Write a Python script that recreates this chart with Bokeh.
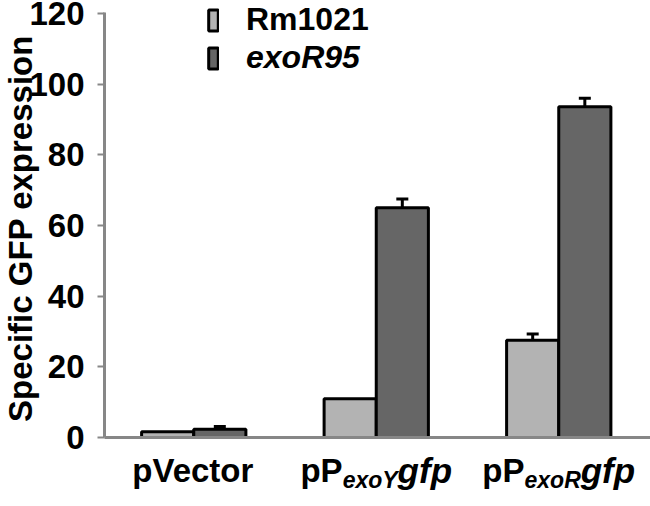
import math
from bokeh.plotting import figure
from bokeh.models import (Range1d, Legend, LegendItem, Whisker, ColumnDataSource,
                          Label, FixedTicker, TeeHead)
from bokeh.embed import file_html
from bokeh.resources import INLINE

# ---------------- data ----------------
categories = ["pVector", "pPexoYgfp", "pPexoRgfp"]
label_main = ["pVector", "pP", "pP"]
label_sub = ["", "exoY", "exoR"]
label_tail = ["", "gfp", "gfp"]
series_names = ["Rm1021", "exoR95"]
rm1021 = [1.6, 11.0, 27.5]
rm1021_err = [0.0, 0.0, 1.8]
exor95 = [2.3, 65.0, 93.6]
exor95_err = [0.8, 2.5, 2.4]
y_ticks = [0, 20, 40, 60, 80, 100, 120]
y_title = "Specific GFP expression"

# ---------------- layout ----------------
FONT = "Liberation Sans"
W, H = 650, 506
AX_X, AX_Y, AX_TOP = 104, 437, 12          # axis positions in page pixels
PX_PER_CAT = 182.5
X0 = -0.5 + 2 / PX_PER_CAT                  # data x at the y axis
px_per_y = (AX_Y - AX_TOP) / 120.3
x_start = X0 - AX_X / PX_PER_CAT
x_end = x_start + W / PX_PER_CAT
y_end = AX_Y / px_per_y
y_start = -(H - AX_Y) / px_per_y

light = "#b3b3b3"
dark = "#666666"
axis_gray = "#878787"

p = figure(width=W, height=H, output_backend="svg", toolbar_location=None,
           x_range=Range1d(x_start, x_end), y_range=Range1d(y_start, y_end),
           min_border_left=0, min_border_right=0, min_border_top=0,
           min_border_bottom=0)
p.outline_line_color = None
p.xgrid.visible = False
p.ygrid.visible = False

bw = 1 / 3.5
xs = list(range(len(categories)))
x_light = [x - bw / 2 for x in xs]
x_dark = [x + bw / 2 for x in xs]

r1 = p.vbar(x=x_light, top=rm1021, bottom=0, width=bw, fill_color=light,
            line_color="black", line_width=3)
r2 = p.vbar(x=x_dark, top=exor95, bottom=0, width=bw, fill_color=dark,
            line_color="black", line_width=3)

# error bars
eb_x, eb_up, eb_lo = [], [], []
for xv, v, e in list(zip(x_light, rm1021, rm1021_err)) + list(zip(x_dark, exor95, exor95_err)):
    if e > 0:
        eb_x.append(xv); eb_up.append(v + e); eb_lo.append(v - e)
src = ColumnDataSource(dict(x=eb_x, upper=eb_up, lower=eb_lo))
wk = Whisker(base="x", upper="upper", lower="lower", source=src,
             line_color="black", line_width=3,
             upper_head=TeeHead(size=12, line_width=3, line_color="black"),
             lower_head=TeeHead(size=12, line_width=3, line_color="black"))
p.add_layout(wk)

# axes (placed inside the canvas at fixed data positions)
ya = p.yaxis[0]
ya.fixed_location = X0
ya.bounds = (0, (AX_Y - AX_TOP) / px_per_y)
ya.ticker = FixedTicker(ticks=y_ticks)
ya.minor_tick_line_color = None
ya.major_tick_in = 0
ya.major_tick_out = 7
ya.major_tick_line_color = axis_gray
ya.major_tick_line_width = 2
ya.axis_line_color = axis_gray
ya.axis_line_width = 3
ya.major_label_standoff = 13
ya.major_label_text_font = FONT
ya.major_label_text_font_style = "bold"
ya.major_label_text_font_size = "33px"
ya.major_label_text_color = "black"

xa = p.xaxis[0]
xa.fixed_location = 0
xa.bounds = (X0, x_end)
xa.ticker = FixedTicker(ticks=[])
xa.minor_tick_line_color = None
xa.major_tick_line_color = None
xa.axis_line_color = axis_gray
xa.axis_line_width = 3
xa.major_label_text_font_size = "0px"

def px_x(page_x):
    return x_start + page_x / PX_PER_CAT

def px_y(page_y):
    return (AX_Y - page_y) / px_per_y

# y title
p.add_layout(Label(x=px_x(20), y=px_y(228), text=y_title, angle=math.pi / 2,
                   text_align="center", text_baseline="alphabetic",
                   text_font=FONT, text_font_style="bold", text_font_size="33px",
                   text_color="black"))

# x category labels with subscript pieces
WID = {'p': 0.611, 'P': 0.667, 'V': 0.667, 'e': 0.556, 'c': 0.556, 't': 0.333,
       'o': 0.611, 'r': 0.389, 'x': 0.556, 'Y': 0.667, 'R': 0.722, 'g': 0.611,
       'f': 0.333}
def tw(s, size):
    return sum(WID.get(ch, 0.556) for ch in s) * size

MAIN_FS, SUB_FS, TAIL_FS = 33, 23, 35
base_y = px_y(470)
sub_y = px_y(479)
for i, x in enumerate(xs):
    pieces = [(label_main[i], MAIN_FS, "bold", base_y),
              (label_sub[i], SUB_FS, "bold italic", sub_y),
              (label_tail[i], TAIL_FS, "bold italic", base_y)]
    pieces = [pc for pc in pieces if pc[0]]
    total = sum(tw(t, fs) for t, fs, _, _ in pieces)
    off = -total / 2
    for t, fs, st, yy in pieces:
        p.add_layout(Label(x=x, y=yy, x_offset=off, text=t, text_align="left",
                           text_baseline="alphabetic", text_font=FONT,
                           text_font_style=st, text_font_size=f"{fs}px",
                           text_color="black"))
        off += tw(t, fs)

# legends
for rend, name, style, bottom_page in [(r1, series_names[0], "bold", 38),
                                       (r2, series_names[1], "bold italic", 76)]:
    lg = Legend(items=[LegendItem(label=name, renderers=[rend])],
                location=(207, H - bottom_page),
                glyph_width=12, glyph_height=26, label_height=26,
                label_standoff=27, padding=0, margin=0, spacing=0,
                border_line_color=None, background_fill_alpha=0,
                label_text_font=FONT, label_text_font_style=style,
                label_text_font_size="32px", label_text_color="black")
    p.add_layout(lg, "center")

open("out.html", "w").write(file_html(p, INLINE))
